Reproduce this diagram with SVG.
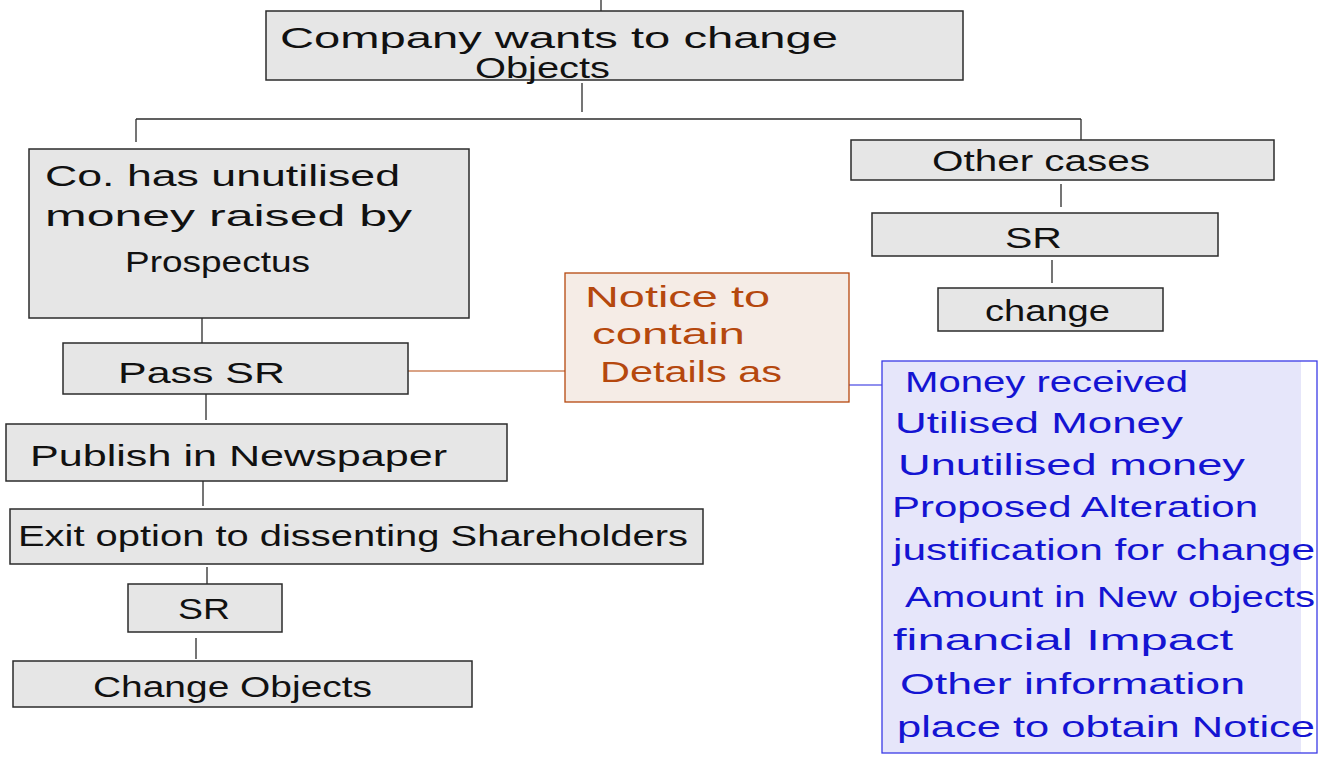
<svg xmlns="http://www.w3.org/2000/svg" width="1320" height="762" viewBox="0 0 1320 762">
<style>
.box{fill:#e6e6e6;stroke:#2b2b2b;stroke-width:1.5}
.ln{stroke:#2b2b2b;stroke-width:1.3;fill:none}
.t{font-family:"Liberation Sans","DejaVu Sans",sans-serif;fill:#111;font-size:30px}
.o{font-family:"Liberation Sans","DejaVu Sans",sans-serif;fill:#b5480e;font-size:30px}
.b{font-family:"Liberation Sans","DejaVu Sans",sans-serif;fill:#1414d2;font-size:29px}
</style>
<rect width="1320" height="762" fill="#ffffff"/>
<g id="connectors">
<line class="ln" x1="601" y1="0" x2="601" y2="11"/>
<line class="ln" x1="582" y1="83" x2="582" y2="112"/>
<line class="ln" x1="136" y1="119" x2="1081" y2="119"/>
<line class="ln" x1="136" y1="119" x2="136" y2="142"/>
<line class="ln" x1="1081" y1="119" x2="1081" y2="140"/>
<line class="ln" x1="202" y1="318" x2="202" y2="343"/>
<line class="ln" x1="206" y1="394" x2="206" y2="420"/>
<line class="ln" x1="203" y1="481" x2="203" y2="506"/>
<line class="ln" x1="207" y1="567" x2="207" y2="584"/>
<line class="ln" x1="196" y1="638" x2="196" y2="659"/>
<line class="ln" x1="1061" y1="184" x2="1061" y2="207"/>
<line class="ln" x1="1052" y1="260" x2="1052" y2="283"/>
<line x1="408" y1="371" x2="565" y2="371" stroke="#b5480e" stroke-width="1.2"/>
<line x1="849" y1="385" x2="882" y2="385" stroke="#2222dd" stroke-width="1.2"/>
</g>
<g id="n-top">
<rect class="box" x="266" y="11" width="697" height="69"/>
<text class="t" x="280" y="48" textLength="558" lengthAdjust="spacingAndGlyphs">Company wants to change</text>
<text class="t" x="475" y="78" textLength="135" lengthAdjust="spacingAndGlyphs">Objects</text>
</g>
<g id="n-unutilised">
<rect class="box" x="29" y="149" width="440" height="169"/>
<text class="t" x="45" y="186" textLength="355" lengthAdjust="spacingAndGlyphs">Co. has unutilised</text>
<text class="t" x="45" y="226" textLength="367" lengthAdjust="spacingAndGlyphs">money raised by</text>
<text class="t" x="125" y="272" textLength="185" lengthAdjust="spacingAndGlyphs">Prospectus</text>
</g>
<g id="n-pass-sr">
<rect class="box" x="63" y="343" width="345" height="51"/>
<text class="t" x="118" y="383" textLength="167" lengthAdjust="spacingAndGlyphs">Pass SR</text>
</g>
<g id="n-publish">
<rect class="box" x="6" y="424" width="501" height="57"/>
<text class="t" x="30" y="466" textLength="417" lengthAdjust="spacingAndGlyphs">Publish in Newspaper</text>
</g>
<g id="n-exit">
<rect class="box" x="10" y="509" width="693" height="55"/>
<text class="t" x="18" y="546" textLength="670" lengthAdjust="spacingAndGlyphs">Exit option to dissenting Shareholders</text>
</g>
<g id="n-sr-left">
<rect class="box" x="128" y="584" width="154" height="48"/>
<text class="t" x="178" y="619" textLength="52" lengthAdjust="spacingAndGlyphs">SR</text>
</g>
<g id="n-change-objects">
<rect class="box" x="13" y="661" width="459" height="46"/>
<text class="t" x="93" y="697" textLength="279" lengthAdjust="spacingAndGlyphs">Change Objects</text>
</g>
<g id="n-notice">
<rect x="565" y="273" width="284" height="129" fill="#f5ece6" stroke="#b5480e" stroke-width="1.3"/>
<text class="o" x="585" y="307" textLength="185" lengthAdjust="spacingAndGlyphs">Notice to</text>
<text class="o" x="592" y="344" textLength="153" lengthAdjust="spacingAndGlyphs">contain</text>
<text class="o" x="600" y="382" textLength="182" lengthAdjust="spacingAndGlyphs">Details as</text>
</g>
<g id="n-other-cases">
<rect class="box" x="851" y="140" width="423" height="40"/>
<text class="t" x="932" y="171" textLength="218" lengthAdjust="spacingAndGlyphs">Other cases</text>
</g>
<g id="n-sr-right">
<rect class="box" x="872" y="213" width="346" height="43"/>
<text class="t" x="1005" y="248" textLength="57" lengthAdjust="spacingAndGlyphs">SR</text>
</g>
<g id="n-change">
<rect class="box" x="938" y="288" width="225" height="43"/>
<text class="t" x="985" y="321" textLength="125" lengthAdjust="spacingAndGlyphs">change</text>
</g>
<g id="n-details">
<rect x="882" y="361" width="419" height="392" fill="#e6e6fa"/>
<rect x="882" y="361" width="435" height="392" fill="none" stroke="#3b3be6" stroke-width="1.3"/>
<text class="b" x="905" y="392" textLength="283" lengthAdjust="spacingAndGlyphs">Money received</text>
<text class="b" x="895" y="433" textLength="288" lengthAdjust="spacingAndGlyphs">Utilised Money</text>
<text class="b" x="898" y="475" textLength="347" lengthAdjust="spacingAndGlyphs">Unutilised money</text>
<text class="b" x="892" y="517" textLength="366" lengthAdjust="spacingAndGlyphs">Proposed Alteration</text>
<text class="b" x="893" y="560" textLength="422" lengthAdjust="spacingAndGlyphs">justification for change</text>
<text class="b" x="905" y="607" textLength="410" lengthAdjust="spacingAndGlyphs">Amount in New objects</text>
<text class="b" x="893" y="650" textLength="340" lengthAdjust="spacingAndGlyphs">financial Impact</text>
<text class="b" x="900" y="694" textLength="345" lengthAdjust="spacingAndGlyphs">Other information</text>
<text class="b" x="897" y="737" textLength="418" lengthAdjust="spacingAndGlyphs">place to obtain Notice</text>
</g>
</svg>
